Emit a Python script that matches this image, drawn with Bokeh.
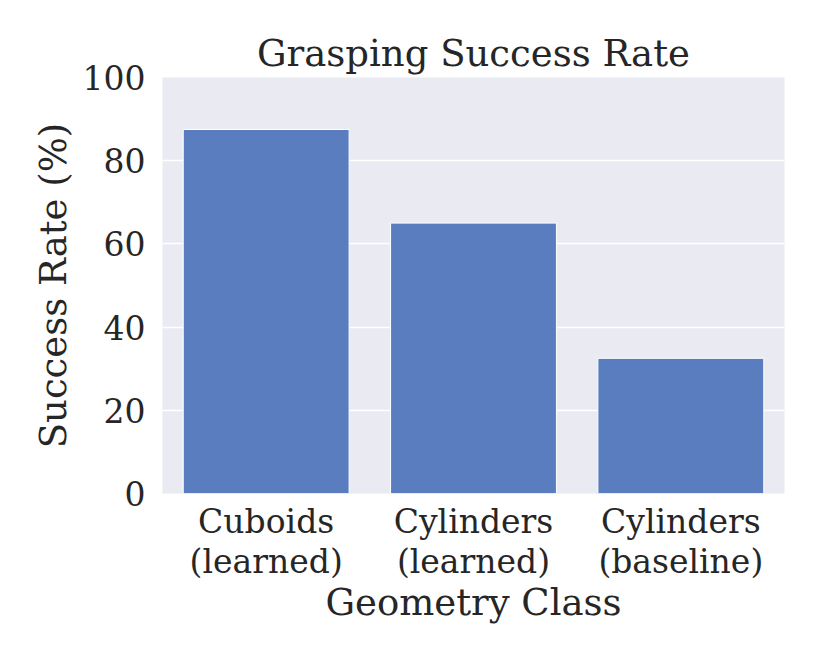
from bokeh.plotting import figure
from bokeh.models import FactorRange, Range1d, FixedTicker, ColumnDataSource
from bokeh.embed import file_html
from bokeh.resources import INLINE

categories = ["Cuboids\n(learned)", "Cylinders\n(learned)", "Cylinders\n(baseline)"]
success_rates = [87.5, 65.0, 32.5]
y_ticks = [0, 20, 40, 60, 80, 100]

FONT = "DejaVu Serif"
TXT = "#262626"

src = ColumnDataSource(dict(cat=categories, rate=success_rates))

p = figure(width=814, height=648,
           x_range=FactorRange(*categories), y_range=Range1d(0, 100),
           output_backend="svg", toolbar_location=None,
           min_border_left=162, min_border_right=30,
           min_border_top=77, min_border_bottom=155,
           title="Grasping Success Rate")

p.vbar(x="cat", top="rate", width=0.8, source=src,
       fill_color="#597dbf", line_color="white", line_width=1)

p.background_fill_color = "#eaeaf2"
p.border_fill_color = "white"
p.outline_line_color = None

p.title.text_font = FONT
p.title.text_font_size = "37px"
p.title.text_font_style = "normal"
p.title.text_color = TXT
p.title.align = "center"
p.title.standoff = 6

p.xgrid.grid_line_color = None
p.ygrid.grid_line_color = "white"
p.ygrid.grid_line_width = 1.5
p.yaxis.ticker = FixedTicker(ticks=y_ticks)

for ax in (p.xaxis[0], p.yaxis[0]):
    ax.axis_line_color = None
    ax.major_tick_line_color = None
    ax.minor_tick_line_color = None
    ax.major_tick_out = 0
    ax.major_tick_in = 0
    ax.minor_tick_out = 0
    ax.minor_tick_in = 0
    ax.major_label_text_font = FONT
    ax.major_label_text_font_size = "33px"
    ax.major_label_text_color = TXT
    ax.axis_label_text_font = FONT
    ax.axis_label_text_font_size = "37px"
    ax.axis_label_text_font_style = "normal"
    ax.axis_label_text_color = TXT

p.xaxis.major_label_text_line_height = 1.03
p.xaxis.axis_label = "Geometry Class"
p.yaxis.axis_label = "Success Rate (%)"
p.yaxis.major_label_standoff = 17
p.xaxis.major_label_standoff = 8
p.yaxis.axis_label_standoff = 5
p.xaxis.axis_label_standoff = -3

open("out.html", "w").write(file_html(p, INLINE))
